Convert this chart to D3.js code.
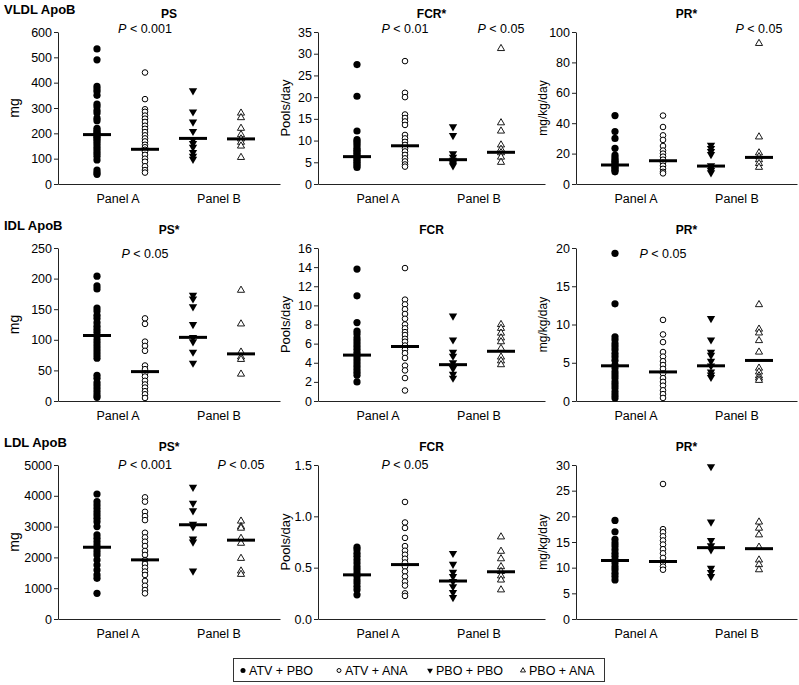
<!DOCTYPE html>
<html>
<head>
<meta charset="utf-8">
<script src="https://cdn.jsdelivr.net/npm/d3@7"></script>
<style>
  body { margin: 0; background: #fff; }
  svg { display: block; font-family: "Liberation Sans", Arial, sans-serif; }
</style>
</head>
<body>
<svg id="chart" width="799" height="685"></svg>
<script>
// ---------------- DATA ----------------
const groups = ["ATV + PBO", "ATV + ANA", "PBO + PBO", "PBO + ANA"];
const panelLabels = ["Panel A", "Panel B"];
const rowLabels = ["VLDL ApoB", "IDL ApoB", "LDL ApoB"];
const colTitles = [["PS", "FCR*", "PR*"], ["PS*", "FCR", "PR*"], ["PS*", "FCR", "PR*"]];
const yLabels = ["mg", "Pools/day", "mg/kg/day"];

// tick values per panel [row][col]
const ticksVLDL = [[0,100,200,300,400,500,600],[0,5,10,15,20,25,30,35],[0,20,40,60,80,100]];
const ticksIDL  = [[0,50,100,150,200,250],[0,2,4,6,8,10,12,14,16],[0,5,10,15,20]];
const ticksLDL  = [[0,1000,2000,3000,4000,5000],[0.0,0.5,1.0,1.5],[0,5,10,15,20,25,30]];

// VLDL ApoB
const vldlPS = [
  [533,490,385,375,365,350,315,305,290,280,260,250,220,212,205,200,195,190,185,178,170,160,150,140,130,120,110,95,55,45,38],
  [440,335,295,285,270,258,245,230,218,205,192,180,168,155,145,135,128,115,100,88,70,55,45],
  [368,285,245,208,175,160,145,125,110,98],
  [280,262,220,195,178,165,150,105]
];
const vldlPSMean = [195,137,180,178];
const vldlFCR = [
  [27.5,20.2,12.2,10.2,9.8,9.3,8.8,8.2,7.8,7.4,7.0,6.6,6.2,5.8,5.4,5.0,4.6,4.2,3.8],
  [28.3,21.0,20.0,16.0,15.2,14.4,13.6,11.3,10.5,9.7,9.0,8.2,7.5,6.7,5.9,5.2,4.5,4.0],
  [13.2,11.2,7.0,6.2,5.5,5.0,4.6,4.2],
  [31.2,14.1,12.2,9.0,8.0,7.2,6.2,5.0]
];
const vldlFCRMean = [6.3,8.8,5.6,7.3];
const vldlPR = [
  [45,34.5,30,23.5,19,17.5,16,15,14,13,12,11,10,9,8],
  [45,37.5,32,29,25,22,20,18,16,14,12,10,8,7],
  [25.5,23.5,21.5,19.5,12,10.5,9,7.5],
  [92.5,31,20.5,18,16,13.5,11]
];
const vldlPRMean = [12.5,15.3,11.8,17.5];

// IDL ApoB
const idlPS = [
  [204,188,183,152,147,140,135,128,122,117,112,106,100,95,90,85,80,75,70,42,37,30,25,20,15,10,6],
  [135,126,97,90,82,58,52,45,40,33,27,22,16,11,5],
  [173,167,154,125,104,97,80,62],
  [181,126,80,72,68,44]
];
const idlPSMean = [107,48,104,77];
const idlFCR = [
  [13.8,11.0,8.2,7.3,7.0,6.6,6.3,6.0,5.7,5.4,5.1,4.8,4.5,4.2,3.9,3.6,3.3,3.0,2.7,2.0],
  [13.9,10.6,10.1,9.6,9.1,8.6,8.0,7.6,7.2,6.9,6.5,6.2,5.8,5.4,5.0,4.5,3.7,3.2,2.4,1.1],
  [8.9,6.4,5.1,4.7,4.0,3.4,2.8,2.4],
  [8.0,7.6,7.1,6.6,6.2,5.5,4.6,4.2,3.8]
];
const idlFCRMean = [4.8,5.7,3.8,5.2];
const idlPR = [
  [19.3,12.7,8.4,8.0,7.5,7.1,6.7,6.2,5.8,5.3,4.7,4.3,3.8,3.4,3.0,2.5,2.1,1.7,1.2,0.8,0.4],
  [10.6,8.7,7.7,6.4,5.8,5.2,4.7,4.2,3.6,3.0,2.5,2.0,1.4,0.9,0.4],
  [10.8,8.0,6.4,6.0,5.2,4.6,3.8,3.4,3.1],
  [12.6,9.4,8.9,7.9,6.4,4.3,3.8,3.3,3.0,2.7]
];
const idlPRMean = [4.6,3.8,4.6,5.3];

// LDL ApoB
const ldlPS = [
  [4058,3810,3700,3590,3480,3380,3270,3160,3000,2730,2620,2510,2400,2290,2185,2080,1915,1750,1590,1430,1320,833],
  [3950,3810,3480,3340,3210,2800,2650,2510,2370,2210,2080,1915,1785,1665,1540,1430,1235,1080,940,833],
  [4280,3760,3520,3080,3000,2600,2500,1560],
  [3180,3000,2950,2620,2460,1970,1560,1450]
];
const ldlPSMean = [2330,1920,3060,2560];
const ldlFCR = [
  [0.70,0.675,0.64,0.61,0.577,0.545,0.51,0.48,0.447,0.414,0.38,0.35,0.316,0.284,0.235],
  [1.14,0.94,0.887,0.79,0.71,0.665,0.626,0.587,0.55,0.51,0.463,0.414,0.365,0.326,0.25,0.225],
  [0.64,0.535,0.456,0.414,0.365,0.316,0.258,0.21],
  [0.80,0.66,0.587,0.51,0.463,0.42,0.38,0.284]
];
const ldlFCRMean = [0.43,0.53,0.37,0.46];
const ldlPR = [
  [19.2,17.0,15.5,14.8,14.2,13.5,12.8,12.2,11.5,10.9,10.2,9.6,8.9,8.3,7.6],
  [26.3,17.5,16.9,16.1,15.3,14.5,13.6,12.8,11.9,11.0,10.2,9.6],
  [29.7,18.9,15.3,14.3,13.5,9.9,9.1,8.3],
  [18.9,17.7,16.4,14.0,11.5,10.6,9.6]
];
const ldlPRMean = [11.4,11.2,13.9,13.7];

// P-value annotations: [row, col, group index, value text]
const pNotes = [
  [0, 0, 1, "0.001"],
  [0, 1, 1, "0.01"],
  [0, 1, 3, "0.05"],
  [0, 2, 3, "0.05"],
  [1, 0, 1, "0.05"],
  [1, 2, 1, "0.05"],
  [2, 0, 1, "0.001"],
  [2, 0, 3, "0.05"],
  [2, 1, 1, "0.05"]
];

// ---------------- LAYOUT ----------------
const colLeft = [58, 318, 576];
const colWidth = [222, 227, 221];
const rowTop = [32, 248, 465];
const rowBottom = [184, 401, 619];
const pDy = [-3, 6, 0];
const yLabelX = [15, 286, 543];
const yLabelSize = [14, 13, 12];

const rowsData = [
  [[vldlPS, vldlPSMean], [vldlFCR, vldlFCRMean], [vldlPR, vldlPRMean]],
  [[idlPS, idlPSMean], [idlFCR, idlFCRMean], [idlPR, idlPRMean]],
  [[ldlPS, ldlPSMean], [ldlFCR, ldlFCRMean], [ldlPR, ldlPRMean]]
];
const rowsTicks = [ticksVLDL, ticksIDL, ticksLDL];

const svg = d3.select("#chart");
const FONT = 12.5;

function drawMarker(sel, g, x, y, legend) {
  const k = legend ? 0.7 : 1;
  if (g === 0) {
    sel.append("circle").attr("cx", x).attr("cy", y).attr("r", 3.6 * k).attr("fill", "#000");
  } else if (g === 1) {
    sel.append("circle").attr("cx", x).attr("cy", y).attr("r", 2.8 * k)
      .attr("fill", "#fff").attr("stroke", "#000").attr("stroke-width", 1);
  } else if (g === 2) {
    sel.append("path").attr("d", d3.symbol(d3.symbolTriangle, 30 * k * k)())
      .attr("transform", `translate(${x},${y}) rotate(180)`).attr("fill", "#000");
  } else {
    sel.append("path").attr("d", d3.symbol(d3.symbolTriangle, 22 * k * k)())
      .attr("transform", `translate(${x},${y})`)
      .attr("fill", "#fff").attr("stroke", "#000").attr("stroke-width", 0.9);
  }
}

rowsData.forEach((row, ri) => {
  // row header
  svg.append("text").attr("x", 4).attr("y", rowTop[ri] - 18)
    .attr("font-size", 13).attr("font-weight", "bold").text(rowLabels[ri]);

  row.forEach(([vals, means], ci) => {
    const L = colLeft[ci], W = colWidth[ci];
    const ticks = rowsTicks[ri][ci];
    const y = d3.scaleLinear().domain([ticks[0], ticks[ticks.length - 1]])
      .range([rowBottom[ri], rowTop[ri]]);
    const x = d3.scalePoint().domain(groups).range([L + 39, L + 183]);
    const xp = d3.scalePoint().domain(panelLabels).range([L + 60, L + 161]);
    const g = svg.append("g");

    // y axis
    const fmt = (ri === 2 && ci === 1) ? d3.format(".1f") : d3.format("d");
    const ya = g.append("g").attr("transform", `translate(${L},0)`)
      .call(d3.axisLeft(y).tickValues(ticks).tickFormat(fmt).tickSize(4).tickPadding(2).tickSizeOuter(0));
    ya.select(".domain").attr("stroke", "#222");
    ya.selectAll(".tick line").attr("stroke", "#222");
    ya.selectAll("text").attr("font-size", FONT).attr("font-family", "Liberation Sans, Arial, sans-serif").attr("fill", "#000");

    // x axis line
    const xa = g.append("g").attr("transform", `translate(0,${rowBottom[ri]})`)
      .call(d3.axisBottom(d3.scaleLinear().domain([0, 1]).range([L, L + W])).tickValues([]).tickSizeOuter(0));
    xa.select(".domain").attr("stroke", "#222");

    // panel labels
    panelLabels.forEach(p => {
      g.append("text").attr("x", xp(p)).attr("y", rowBottom[ri] + 19)
        .attr("text-anchor", "middle").attr("font-size", FONT).text(p);
    });

    // title
    g.append("text").attr("x", L + W / 2).attr("y", rowTop[ri] - 14)
      .attr("text-anchor", "middle").attr("font-size", 12).attr("font-weight", "bold")
      .text(colTitles[ri][ci]);

    // y label
    const cy = (rowTop[ri] + rowBottom[ri]) / 2;
    g.append("text").attr("transform", `translate(${yLabelX[ci] + 4},${cy}) rotate(-90)`)
      .attr("text-anchor", "middle").attr("font-size", yLabelSize[ci]).text(yLabels[ci]);

    // points
    vals.forEach((arr, gi) => {
      arr.forEach(v => drawMarker(g, gi, x(groups[gi]), y(v), false));
    });
    // mean bars
    means.forEach((m, gi) => {
      g.append("line").attr("x1", x(groups[gi]) - 14).attr("x2", x(groups[gi]) + 14)
        .attr("y1", y(m)).attr("y2", y(m)).attr("stroke", "#000").attr("stroke-width", 3);
    });

    // p notes
    pNotes.filter(n => n[0] === ri && n[1] === ci).forEach(n => {
      const t = g.append("text").attr("x", x(groups[n[2]])).attr("y", rowTop[ri] + pDy[ri] + 4)
        .attr("text-anchor", "middle").attr("font-size", FONT);
      t.append("tspan").attr("font-style", "italic").text("P");
      t.append("tspan").text(" < " + n[3]);
    });
  });
});

// legend
const lg = svg.append("g");
lg.append("rect").attr("x", 233.5).attr("y", 658.5).attr("width", 371).attr("height", 23)
  .attr("fill", "#fff").attr("stroke", "#333").attr("stroke-width", 1);
const legX = [243, 339, 430, 523];
groups.forEach((gname, gi) => {
  drawMarker(lg, gi, legX[gi], 670.5, true);
  lg.append("text").attr("x", legX[gi] + 6).attr("y", 675).attr("font-size", FONT).text(gname);
});
</script>
</body>
</html>
